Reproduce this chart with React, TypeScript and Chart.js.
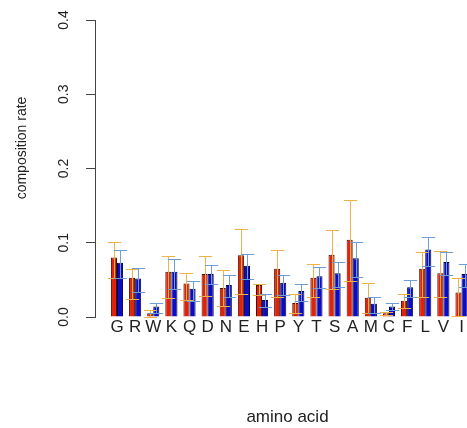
import { useEffect, useRef } from "react";
import { Chart, registerables } from "chart.js";

Chart.register(...registerables);

const aminoAcids = ["G", "R", "W", "K", "Q", "D", "N", "E", "H", "P", "Y", "T", "S", "A", "M", "C", "F", "L", "V", "I"];

const redMeans = [0.080, 0.053, 0.005, 0.061, 0.045, 0.058, 0.039, 0.083, 0.043, 0.065, 0.019, 0.053, 0.084, 0.104, 0.026, 0.005, 0.022, 0.065, 0.059, 0.033];
const redLow = [0.053, 0.024, 0.000, 0.026, 0.023, 0.028, 0.015, 0.031, 0.030, 0.027, 0.006, 0.027, 0.038, 0.049, 0.006, 0.003, 0.012, 0.027, 0.027, 0.002];
const redHigh = [0.101, 0.065, 0.010, 0.082, 0.059, 0.082, 0.063, 0.118, 0.045, 0.090, 0.031, 0.072, 0.117, 0.158, 0.046, 0.007, 0.031, 0.088, 0.089, 0.053];

const blueMeans = [0.073, 0.052, 0.014, 0.061, 0.038, 0.058, 0.043, 0.069, 0.023, 0.046, 0.035, 0.055, 0.059, 0.079, 0.018, 0.014, 0.040, 0.091, 0.074, 0.058];
const blueLow = [0.053, 0.034, 0.005, 0.038, 0.022, 0.044, 0.027, 0.051, 0.013, 0.030, 0.022, 0.039, 0.041, 0.054, 0.005, 0.009, 0.027, 0.069, 0.056, 0.040];
const blueHigh = [0.090, 0.066, 0.019, 0.078, 0.049, 0.070, 0.056, 0.085, 0.031, 0.057, 0.044, 0.067, 0.074, 0.101, 0.027, 0.019, 0.050, 0.108, 0.088, 0.072];

const yTickValues = [0, 0.1, 0.2, 0.3, 0.4];
const yAxisTitle = "composition rate";
const xAxisTitle = "amino acid";

const FONT = '"Liberation Sans", Arial, Helvetica, sans-serif';

export default function App() {
  const ref = useRef<HTMLCanvasElement>(null);

  useEffect(() => {
    if (!ref.current) return;
    Chart.defaults.font.family = FONT;

    const errorBarPlugin = {
      id: "errorBars",
      afterDatasetsDraw(chart: any) {
        const ctx = chart.ctx;
        const yScale = chart.scales.y;
        chart.data.datasets.forEach((ds: any, di: number) => {
          const meta = chart.getDatasetMeta(di);
          ctx.save();
          ctx.strokeStyle = ds.errColor;
          ctx.lineWidth = 1;
          meta.data.forEach((el: any, i: number) => {
            const x = Math.round(el.x) + 0.5;
            const yl = Math.round(yScale.getPixelForValue(ds.errLow[i])) + 0.5;
            const yh = Math.round(yScale.getPixelForValue(ds.errHigh[i])) + 0.5;
            const hw = el.width * 1.1;
            ctx.beginPath();
            ctx.moveTo(x, yl);
            ctx.lineTo(x, yh);
            ctx.moveTo(x - hw, yh);
            ctx.lineTo(x + hw, yh);
            ctx.moveTo(x - hw, yl);
            ctx.lineTo(x + hw, yl);
            ctx.stroke();
          });
          ctx.restore();
        });
      },
    };

    const yLabelsPlugin = {
      id: "yLabels",
      afterDraw(chart: any) {
        const ctx = chart.ctx;
        const yScale = chart.scales.y;
        ctx.save();
        ctx.fillStyle = "#222";
        ctx.textAlign = "center";
        ctx.textBaseline = "middle";
        ctx.font = `14px ${FONT}`;
        yTickValues.forEach((v) => {
          const py = yScale.getPixelForValue(v);
          ctx.save();
          ctx.translate(64, py);
          ctx.rotate(-Math.PI / 2);
          ctx.fillText(v.toFixed(1), 0, 0);
          ctx.restore();
        });
        ctx.font = `14px ${FONT}`;
        ctx.save();
        ctx.translate(22, 148);
        ctx.rotate(-Math.PI / 2);
        ctx.fillText(yAxisTitle, 0, 0);
        ctx.restore();
        ctx.restore();
      },
    };

    const chart = new Chart(ref.current, {
      type: "bar",
      data: {
        datasets: [
          {
            label: "red",
            data: aminoAcids.map((_, i) => ({ x: i, y: redMeans[i] })),
            backgroundColor: "#E3220B",
            borderColor: "#4a0c04",
            borderWidth: 1,
            errLow: redLow,
            errHigh: redHigh,
            errColor: "#EDB34A",
          } as any,
          {
            label: "blue",
            data: aminoAcids.map((_, i) => ({ x: i, y: blueMeans[i] })),
            backgroundColor: "#0B0BC8",
            borderColor: "#00003a",
            borderWidth: 1,
            errLow: blueLow,
            errHigh: blueHigh,
            errColor: "#6E9ED6",
          } as any,
        ],
      },
      options: {
        animation: false,
        responsive: true,
        maintainAspectRatio: false,
        layout: { padding: { top: 20, left: 0, right: 0, bottom: 0 } },
        datasets: { bar: { categoryPercentage: 0.67, barPercentage: 1 } },
        plugins: { legend: { display: false }, tooltip: { enabled: false } },
        scales: {
          x: {
            type: "linear",
            min: -1.213,
            max: 20.02,
            offset: false,
            bounds: "data",
            grid: { display: false, drawTicks: false, offset: false },
            border: { display: false },
            afterBuildTicks: (s: any) => {
              s.ticks = aminoAcids.map((_, i) => ({ value: i }));
            },
            ticks: {
              autoSkip: false,
              maxRotation: 0,
              minRotation: 0,
              padding: 0,
              color: "#222",
              font: { size: 17 },
              callback: (v: any) => {
                const n = Math.round(Number(v));
                return aminoAcids[n] ?? "";
              },
            },
            title: { display: true, text: xAxisTitle, color: "#222", font: { size: 17 }, padding: { top: 0, bottom: 0 } },
            afterFit: (s: any) => {
              s.height = 111;
            },
          } as any,
          y: {
            min: 0,
            max: 0.4,
            ticks: { display: false, stepSize: 0.1 },
            grid: { display: true, drawOnChartArea: false, drawTicks: true, tickLength: 9, color: "#444", lineWidth: 1 },
            border: { display: true, color: "#444", width: 1 },
            title: { display: false },
            afterFit: (s: any) => {
              s.width = 95;
            },
          } as any,
        },
      },
      plugins: [errorBarPlugin, yLabelsPlugin],
    });

    return () => chart.destroy();
  }, []);

  return (
    <div style={{ position: "fixed", left: 0, top: 0, width: 467, height: 428, overflow: "hidden", background: "#fff" }}>
      <div style={{ position: "relative", width: 480, height: 428 }}>
        <canvas ref={ref} />
      </div>
    </div>
  );
}
